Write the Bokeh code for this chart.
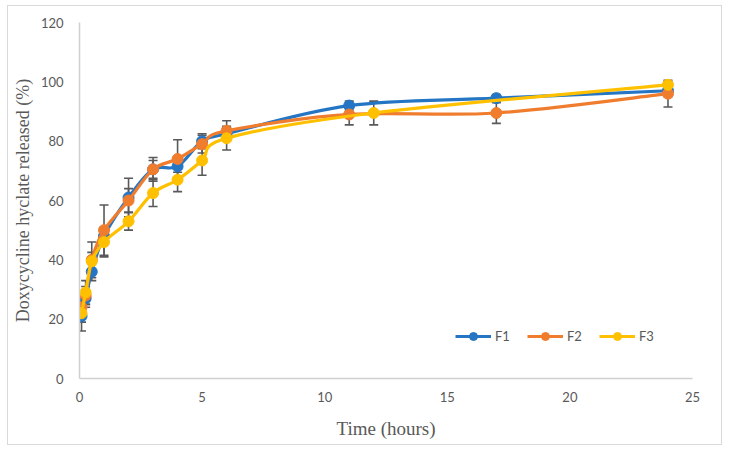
from bokeh.plotting import figure
from bokeh.models import (Range1d, ColumnDataSource, Whisker, TeeHead, Legend, LegendItem,
                          FixedTicker)
from bokeh.embed import file_html
from bokeh.resources import INLINE

# ---- data ----
F1_t = [0.083, 0.25, 0.5, 1, 2, 3, 4, 5, 6, 11, 17, 24]
F1 = [21, 27, 36, 48, 61, 70.5, 71.5, 80, 82.5, 92, 94.5, 97]
F1_err = [5, 3, 3, 2, 6.5, 3, 2, 2.5, 2, 1.5, 1.2, 2]

F2_t = [0.083, 0.25, 0.5, 1, 2, 3, 4, 5, 6, 11, 17, 24]
F2 = [24, 28, 40, 50, 60, 70.5, 74, 79, 83.5, 89, 89.5, 96]
F2_err = [3, 3, 6, 8.5, 4, 4, 6.5, 3, 3.4, 3.5, 3.5, 4.5]

F3_t = [0.083, 0.25, 0.5, 1, 2, 3, 4, 5, 6, 12, 24]
F3 = [22, 29, 39.5, 46, 53, 62.5, 67, 73.5, 81, 89.5, 99]
F3_err = [3, 4, 3, 5, 3, 4.5, 4, 5, 4, 4, 1]

series_names = ["F1", "F2", "F3"]
colors = ["#2475C4", "#F07D2E", "#FFC000"]
x_ticks = [0, 5, 10, 15, 20, 25]
y_ticks = [0, 20, 40, 60, 80, 100, 120]

p = figure(width=715, height=440, output_backend="svg", toolbar_location=None,
           x_range=Range1d(0, 25), y_range=Range1d(0, 120),
           min_border_left=71, min_border_right=31, min_border_top=16, min_border_bottom=68)
p.styles = {"border": "1px solid #d9d9d9", "margin": "5px 0 0 7px"}
p.grid.visible = False
p.outline_line_color = None
p.background_fill_color = "white"

tick_font = "Lato"
title_font = "Liberation Serif"
for ax in (p.xaxis[0], p.yaxis[0]):
    ax.axis_line_color = "#d0d0d0"
    ax.axis_line_width = 1.5
    ax.major_tick_line_color = None
    ax.minor_tick_line_color = None
    ax.major_tick_out = 0
    ax.major_tick_in = 0
    ax.minor_tick_out = 0
    ax.major_label_text_color = "#595959"
    ax.major_label_text_font = tick_font
    ax.major_label_text_font_size = "13px"
    ax.axis_label_text_color = "#595959"
    ax.axis_label_text_font = title_font
    ax.axis_label_text_font_style = "normal"

p.xaxis[0].axis_label_text_font_size = "19px"
p.yaxis[0].axis_label_text_font_size = "18px"
p.xaxis[0].ticker = FixedTicker(ticks=x_ticks)
p.yaxis[0].ticker = FixedTicker(ticks=y_ticks)
p.xaxis[0].axis_label = "Time (hours)"
p.yaxis[0].axis_label = "Doxycycline hyclate released (%)"
p.xaxis[0].major_label_standoff = 13
p.xaxis[0].axis_label_standoff = 13
p.yaxis[0].major_label_standoff = 16
p.yaxis[0].axis_label_standoff = 5


def smooth_segments(xs, ys):
    n = len(xs)
    out = dict(x0=[], y0=[], x1=[], y1=[], cx0=[], cy0=[], cx1=[], cy1=[])
    for i in range(n - 1):
        xm = xs[i - 1] if i > 0 else xs[i]
        ym = ys[i - 1] if i > 0 else ys[i]
        xp = xs[i + 2] if i + 2 < n else xs[i + 1]
        yp = ys[i + 2] if i + 2 < n else ys[i + 1]
        out["x0"].append(xs[i]); out["y0"].append(ys[i])
        out["x1"].append(xs[i + 1]); out["y1"].append(ys[i + 1])
        out["cx0"].append(xs[i] + (xs[i + 1] - xm) / 6)
        out["cy0"].append(ys[i] + (ys[i + 1] - ym) / 6)
        out["cx1"].append(xs[i + 1] - (xp - xs[i]) / 6)
        out["cy1"].append(ys[i + 1] - (yp - ys[i]) / 6)
    return out


items = []
all_series = [(F1_t, F1, F1_err), (F2_t, F2, F2_err), (F3_t, F3, F3_err)]
for (ts, vs, es), name, c in zip(all_series, series_names, colors):
    seg = ColumnDataSource(smooth_segments(ts, vs))
    p.bezier(x0="x0", y0="y0", x1="x1", y1="y1", cx0="cx0", cy0="cy0", cx1="cx1", cy1="cy1",
             source=seg, line_color=c, line_width=3.2)
    src = ColumnDataSource(dict(t=ts, v=vs))
    sc = p.scatter("t", "v", source=src, size=11, fill_color=c, line_color=c, marker="circle")
    # single-point line: draws nothing in the plot, only provides the legend line glyph
    legline = p.line(x=ts[:1], y=vs[:1], line_color=c, line_width=3.2)
    items.append(LegendItem(label=name, renderers=[legline, sc]))

for (ts, vs, es) in all_series:
    esrc = ColumnDataSource(dict(t=ts, up=[v + e for v, e in zip(vs, es)],
                                 lo=[v - e for v, e in zip(vs, es)]))
    w = Whisker(base="t", upper="up", lower="lo", source=esrc, line_color="#595959",
                line_width=1.6,
                upper_head=TeeHead(size=9, line_color="#595959", line_width=1.6),
                lower_head=TeeHead(size=9, line_color="#595959", line_width=1.6))
    p.add_layout(w)

legend = Legend(items=items, orientation="horizontal", location=(376, 32),
                glyph_width=36, glyph_height=20, label_height=20, label_standoff=4,
                spacing=12, padding=0, margin=0, border_line_color=None,
                background_fill_alpha=0, label_text_font=tick_font,
                label_text_font_size="13px", label_text_color="#595959")
p.add_layout(legend)

open("out.html", "w").write(file_html(p, INLINE))
